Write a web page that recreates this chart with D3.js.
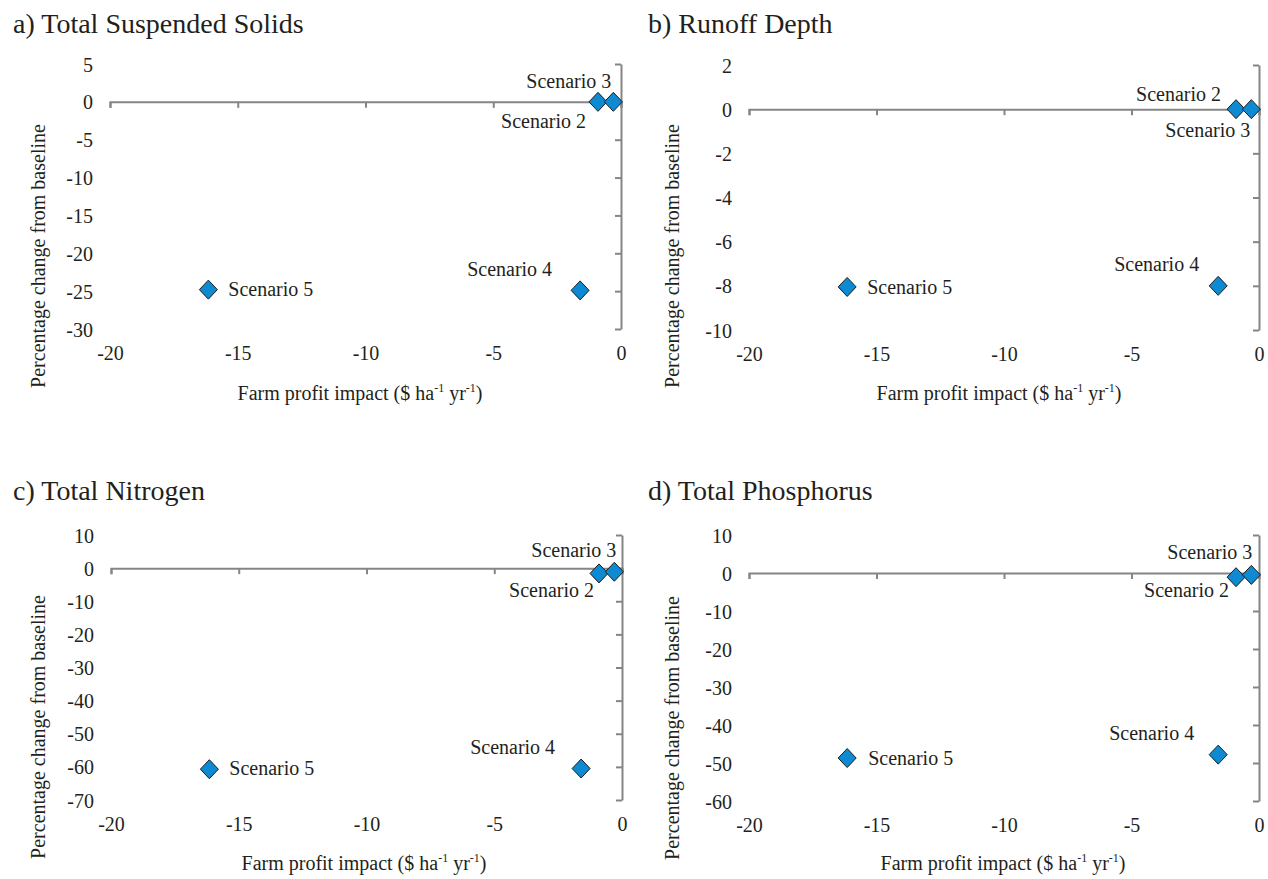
<!DOCTYPE html>
<html>
<head>
<meta charset="utf-8">
<script src="https://cdn.jsdelivr.net/npm/d3@7"></script>
<style>
  html, body { margin: 0; padding: 0; background: #ffffff; }
  svg { display: block; }
</style>
</head>
<body>
<svg id="chart" width="1268" height="879"></svg>
<script>
// Scenario names and farm profit impact ($/ha/yr) for each scenario
const scenarios = ["Scenario 2", "Scenario 3", "Scenario 4", "Scenario 5"];
const profitImpact = [-0.9, -0.3, -1.6, -16.15];

// Percentage change from baseline, one array per water-quality measure
const tssChange = [0, 0, -24.9, -24.8];
const runoffChange = [0, 0, -8.0, -8.05];
const nitrogenChange = [-1.6, -1.1, -60.5, -60.7];
const phosphorusChange = [-1.1, -0.5, -47.8, -48.7];

// Panel titles
const panelTitles = ["a) Total Suspended Solids", "b) Runoff Depth", "c) Total Nitrogen", "d) Total Phosphorus"];

// Tick values
const xTicks = [-20, -15, -10, -5, 0];
const tssTicks = [5, 0, -5, -10, -15, -20, -25, -30];
const runoffTicks = [2, 0, -2, -4, -6, -8, -10];
const nitrogenTicks = [10, 0, -10, -20, -30, -40, -50, -60, -70];
const phosphorusTicks = [10, 0, -10, -20, -30, -40, -50, -60];

// Panel geometry and label placement (label offsets: [dx, dy, anchor])
const panels = [
  { title: panelTitles[0], values: tssChange, ticks: tssTicks,
    titleX: 13, titleY: 33, left: 110, right: 621, top: 64, bottom: 329,
    xTitleX: 360, xTitleY: 400, yTitleX: 45, yTitleY: 256,
    labels: [[-12, 26, "end"], [-2, -14, "end"], [-28, -14, "end"], [20, 6, "start"]] },
  { title: panelTitles[1], values: runoffChange, ticks: runoffTicks,
    titleX: 648, titleY: 33, left: 749, right: 1259, top: 65, bottom: 330,
    xTitleX: 999, xTitleY: 400, yTitleX: 679, yTitleY: 256,
    labels: [[-15, -8, "end"], [-1, 28, "end"], [-19, -15, "end"], [20, 7, "start"]] },
  { title: panelTitles[2], values: nitrogenChange, ticks: nitrogenTicks,
    titleX: 13, titleY: 500, left: 111, right: 622, top: 535, bottom: 800,
    xTitleX: 364, xTitleY: 870, yTitleX: 45, yTitleY: 727,
    labels: [[-5, 24, "end"], [2, -15, "end"], [-26, -15, "end"], [20, 6, "start"]] },
  { title: panelTitles[3], values: phosphorusChange, ticks: phosphorusTicks,
    titleX: 648, titleY: 500, left: 749, right: 1259, top: 535, bottom: 801,
    xTitleX: 1003, xTitleY: 870, yTitleX: 679, yTitleY: 728,
    labels: [[-7, 20, "end"], [1, -16, "end"], [-24, -15, "end"], [21, 7, "start"]] }
];

const FONT = "'Liberation Serif', 'Times New Roman', Times, Tinos, 'Noto Serif', 'DejaVu Serif', serif";
const INK = "#231f20";
const axisColor = "#858585";
const markerFill = "#0e8ad3";
const fmt = d => String(d);

const svg = d3.select("#chart")
  .attr("font-family", FONT)
  .style("font-family", FONT);

function styleText(sel, size) {
  return sel.attr("font-family", FONT).style("font-family", FONT)
    .attr("fill", INK).style("font-size", size + "px");
}

panels.forEach(p => {
  const g = svg.append("g");
  const yDomain = [d3.min(p.ticks), d3.max(p.ticks)];
  const x = d3.scaleLinear().domain([-20, 0]).range([p.left, p.right]);
  const y = d3.scaleLinear().domain(yDomain).range([p.bottom, p.top]);

  // panel title
  styleText(g.append("text"), 28)
    .attr("x", p.titleX).attr("y", p.titleY)
    .text(p.title);

  // horizontal axis line through y = 0 with downward ticks
  const xAxisLine = g.append("g")
    .attr("transform", `translate(0,${y(0)})`)
    .call(d3.axisBottom(x).tickValues(xTicks).tickSize(6).tickFormat(""));
  xAxisLine.select(".domain").attr("stroke", axisColor).attr("stroke-width", 2);
  xAxisLine.selectAll(".tick line").attr("stroke", axisColor).attr("stroke-width", 2);

  // vertical axis line through x = 0 with inward ticks
  const yAxisLine = g.append("g")
    .attr("transform", `translate(${x(0)},0)`)
    .call(d3.axisLeft(y).tickValues(p.ticks).tickSize(6).tickSizeOuter(0).tickFormat(""));
  yAxisLine.select(".domain").attr("stroke", axisColor).attr("stroke-width", 2);
  yAxisLine.selectAll(".tick line").attr("stroke", axisColor).attr("stroke-width", 2);

  // x tick labels at the bottom of the plot area
  const xLabels = g.append("g")
    .attr("transform", `translate(0,${p.bottom})`)
    .call(d3.axisBottom(x).tickValues(xTicks).tickSize(0).tickPadding(0).tickFormat(fmt));
  xLabels.attr("font-family", FONT);
  xLabels.select(".domain").remove();
  styleText(xLabels.selectAll("text"), 20).attr("dy", null).attr("y", 31);

  // y tick labels at the left edge of the plot area
  const yLabels = g.append("g")
    .attr("transform", `translate(${p.left},0)`)
    .call(d3.axisLeft(y).tickValues(p.ticks).tickSize(0).tickPadding(17).tickFormat(fmt));
  yLabels.attr("font-family", FONT);
  yLabels.select(".domain").remove();
  styleText(yLabels.selectAll("text"), 20).attr("dy", "0.35em");

  // axis titles
  const xt = styleText(g.append("text"), 20)
    .attr("x", p.xTitleX).attr("y", p.xTitleY)
    .attr("text-anchor", "middle");
  xt.append("tspan").text("Farm profit impact ($ ha");
  xt.append("tspan").attr("dy", -8).style("font-size", "12px").text("-1");
  xt.append("tspan").attr("dy", 8).text(" yr");
  xt.append("tspan").attr("dy", -8).style("font-size", "12px").text("-1");
  xt.append("tspan").attr("dy", 8).text(")");

  styleText(g.append("text"), 20)
    .attr("transform", `translate(${p.yTitleX},${p.yTitleY}) rotate(-90)`)
    .attr("text-anchor", "middle")
    .text("Percentage change from baseline");

  // scenario points
  const pts = scenarios.map((s, i) => ({ name: s, px: profitImpact[i], py: p.values[i], lab: p.labels[i] }));

  g.selectAll("path.pt")
    .data(pts)
    .join("path")
    .attr("class", "pt")
    .attr("d", "M0,-9.5L9,0L0,9.5L-9,0Z")
    .attr("transform", d => `translate(${x(d.px)},${y(d.py)})`)
    .attr("fill", markerFill)
    .attr("stroke", "#1b1b1b")
    .attr("stroke-width", 1);

  styleText(g.selectAll("text.lab").data(pts).join("text").attr("class", "lab"), 20)
    .attr("x", d => x(d.px) + d.lab[0])
    .attr("y", d => y(d.py) + d.lab[1])
    .attr("text-anchor", d => d.lab[2])
    .text(d => d.name);
});
</script>
</body>
</html>
